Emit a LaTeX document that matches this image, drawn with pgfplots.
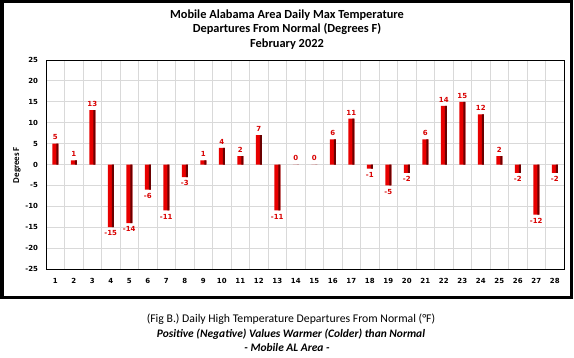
\documentclass[border=0pt]{standalone}
\usepackage{fontspec}
\setmainfont{Carlito}
\newfontfamily\verd{DejaVu Sans}
\usepackage{pgfplots}
\pgfplotsset{compat=1.18}
\definecolor{barred}{HTML}{E80000}
\definecolor{bardark}{HTML}{6A0000}
\definecolor{labred}{HTML}{D80000}
\begin{document}
\begin{tikzpicture}[x=1bp,y=1bp]
\useasboundingbox (0,0) rectangle (574,357);
\begin{axis}[at={(46bp,88bp)}, anchor=south west, scale only axis,
  width=518bp, height=209bp,
  xmin=0.5, xmax=28.5, ymin=-25, ymax=25,
  xtick={1,...,28}, ytick={-25,-20,...,25},
  minor xtick={1.5,2.5,...,27.5},
  xminorgrids, ymajorgrids,
  major grid style={black!15, line width=0.9bp},
  minor grid style={black!15, line width=0.9bp},
  major tick length=0pt, minor tick length=0pt,
  /pgf/number format/assume math mode=true,
  tick label style={font=\verd\bfseries\fontsize{7}{8}\selectfont},
  xticklabel style={yshift=-5.5bp},
  yticklabel style={xshift=-4.5bp},
  axis line style={line width=1bp},
  ybar, bar width=6bp,
]
\addplot[ybar, bar shift=0pt, bar width=6bp, draw=none, fill=barred,
  nodes near coords={\pgfmathprintnumber{\pgfplotspointmeta}},
  nodes near coords style={font=\verd\bfseries\fontsize{7}{8}\selectfont, text=labred}] coordinates {
(1,5) (2,1) (3,13) (4,-15) (5,-14) (6,-6) (7,-11) (8,-3) (9,1) (10,4)
(11,2) (12,7) (13,-11) (14,0) (15,0) (16,6) (17,11) (18,-1) (19,-5) (20,-2)
(21,6) (22,14) (23,15) (24,12) (25,2) (26,-2) (27,-12) (28,-2)};
\addplot[ybar, bar shift=2bp, bar width=2bp, draw=none, fill=bardark] coordinates {
(1,5) (2,1) (3,13) (4,-15) (5,-14) (6,-6) (7,-11) (8,-3) (9,1) (10,4)
(11,2) (12,7) (13,-11) (14,0) (15,0) (16,6) (17,11) (18,-1) (19,-5) (20,-2)
(21,6) (22,14) (23,15) (24,12) (25,2) (26,-2) (27,-12) (28,-2)};
\end{axis}
\draw[line width=3bp] (2,60) rectangle (571,355);
\node[rotate=90, font=\bfseries\fontsize{9}{10}\selectfont] at (17,192) {Degrees F};
\node[font=\bfseries\fontsize{12.4}{14}\selectfont] at (287,342) {Mobile Alabama Area Daily Max Temperature};
\node[font=\bfseries\fontsize{12.4}{14}\selectfont] at (287,328) {Departures From Normal (Degrees F)};
\node[font=\bfseries\fontsize{12.4}{14}\selectfont] at (287,313) {February 2022};
\node[font=\fontsize{11.8}{13}\selectfont] at (291,38) {(Fig B.) Daily High Temperature Departures From Normal (°F)};
\node[font=\bfseries\itshape\fontsize{11.5}{13}\selectfont] at (291,23) {Positive (Negative) Values Warmer (Colder) than Normal};
\node[font=\bfseries\itshape\fontsize{11.5}{13}\selectfont] at (287,9) {- Mobile AL Area -};
\end{tikzpicture}
\end{document}
